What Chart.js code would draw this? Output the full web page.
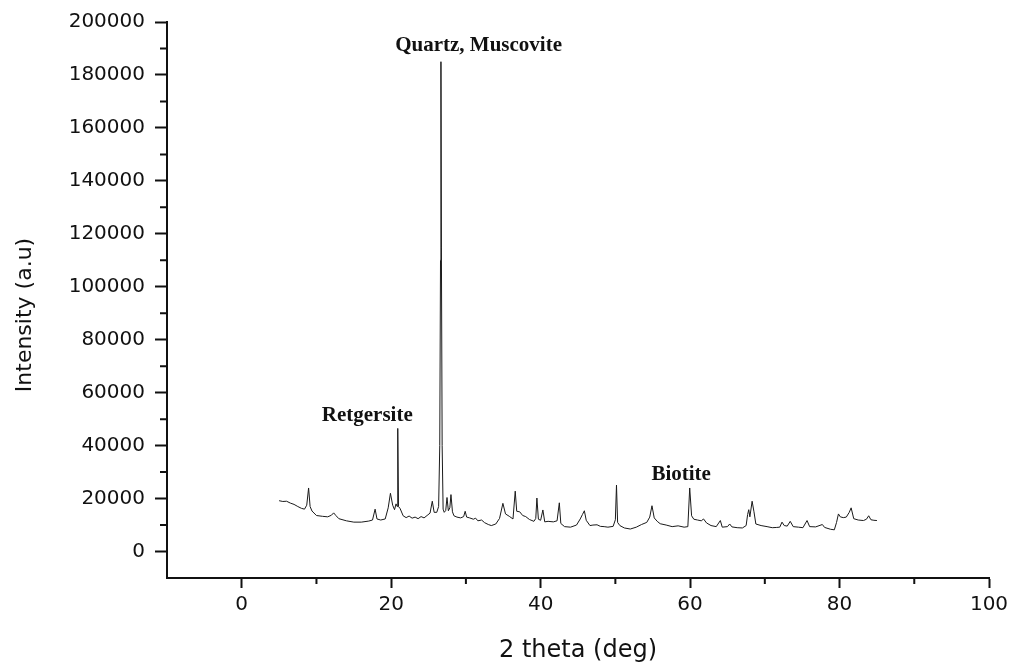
<!DOCTYPE html>
<html lang="en">

<head>
    <meta charset="UTF-8" />
    <title>XRD pattern</title>
    <script src="https://cdn.jsdelivr.net/npm/chart.js"></script>
    <style>
        html, body { margin: 0; padding: 0; background: #fff; }
        #wrap { width: 1015px; height: 668px; }
    </style>
</head>

<body>
    <div id="wrap"><canvas id="chart"></canvas></div>
    <script>
        // 2 theta (deg) and intensity (a.u)
        var twoTheta = [
            5.0, 5.5, 6.0, 6.5, 7.0, 7.5, 8.0, 8.4, 8.7, 8.95, 9.15, 9.4, 10.0, 10.8, 11.5, 12.0, 12.3, 12.6, 13.0, 14.0,
            15.0, 16.0, 17.0, 17.5, 17.85, 18.1, 18.6, 19.2, 19.6, 19.9, 20.2, 20.45, 20.65, 20.8, 20.88, 20.98, 21.2, 21.6, 22.0, 22.4,
            22.8, 23.2, 23.6, 24.0, 24.4, 24.8, 25.2, 25.5, 25.75, 26.1, 26.35, 26.5, 26.6, 26.66, 26.72, 26.82, 26.95, 27.1, 27.3, 27.47,
            27.65, 27.85, 28.0, 28.2, 28.4, 28.8, 29.3, 29.7, 29.9, 30.1, 30.5, 31.0, 31.3, 31.6, 32.1, 32.5, 33.0, 33.4, 34.0, 34.5,
            34.95, 35.3, 35.8, 36.3, 36.6, 36.8, 37.2, 37.6, 38.0, 38.5, 39.1, 39.35, 39.5, 39.7, 40.0, 40.3, 40.55, 41.0, 41.7, 42.2,
            42.5, 42.7, 43.2, 44.0, 44.8, 45.3, 45.6, 45.85, 46.1, 46.6, 47.0, 47.55, 48.0, 48.5, 49.0, 49.7, 50.0, 50.15, 50.3, 50.6,
            51.2, 52.0, 52.8, 53.5, 54.2, 54.6, 54.9, 55.2, 55.6, 56.0, 56.8, 57.6, 58.4, 59.2, 59.7, 59.95, 60.2, 60.5, 61.0, 61.5,
            61.8, 62.2, 62.8, 63.5, 64.05, 64.3, 65.0, 65.3, 65.6, 66.3, 67.0, 67.5, 67.7, 67.85, 68.0, 68.3, 68.55, 68.8, 69.5, 70.3,
            71.0, 71.6, 72.0, 72.3, 72.6, 73.0, 73.4, 73.8, 74.5, 75.1, 75.65, 76.0, 76.8, 77.7, 78.0, 78.8, 79.3, 79.6, 79.85, 80.1,
            80.5, 80.9, 81.3, 81.55, 81.9, 82.5, 83.2, 83.6, 83.9, 84.2, 84.6, 85.0
        ];
        var intensity = [
            19200, 18900, 19000, 18300, 17800, 17000, 16300, 16000, 17500, 24000, 17000, 15300, 13600, 13300, 13100, 13700, 14600, 13600, 12400, 11600,
            11100, 11100, 11500, 11900, 16000, 12300, 11900, 12300, 16500, 22000, 17500, 15800, 18000, 17000, 46500, 17000, 16200, 13500, 12800, 13400,
            12600, 13000, 12400, 13200, 12700, 13600, 14500, 19000, 14800, 14800, 17000, 40000, 110000, 185000, 115000, 40000, 16000, 14800, 15500, 20400,
            15400, 16500, 21500, 15000, 13500, 13000, 12700, 13200, 15200, 13000, 12700, 12200, 12600, 11600, 11900, 10900, 10200, 9800, 10400, 12500,
            18200, 14200, 13300, 12300, 22800, 15200, 15000, 13600, 13200, 12100, 11400, 12500, 20200, 12200, 11800, 15700, 11200, 11400, 11200, 11600,
            18400, 10600, 9400, 9200, 10000, 12300, 14000, 15400, 11800, 9800, 10000, 10100, 9500, 9400, 9200, 9500, 12000, 25100, 11000, 9800,
            8900, 8500, 9200, 10200, 11000, 13000, 17300, 12700, 11400, 10500, 10000, 9400, 9700, 9200, 9400, 24000, 13500, 12200, 11900, 11600,
            12300, 10800, 9800, 9400, 11700, 9200, 9400, 10400, 9300, 9000, 8900, 9800, 14000, 15800, 13100, 19000, 15000, 10400, 9800, 9400,
            9000, 9100, 9200, 11100, 9800, 9600, 11400, 9400, 9200, 9000, 11700, 9400, 9300, 10200, 9100, 8400, 8200, 11000, 14200, 13100,
            12800, 13000, 14800, 16500, 12400, 11900, 11700, 12200, 13500, 12000, 11800, 11700
        ];

        var xTicks = [0, 20, 40, 60, 80, 100];
        var xMinor = [10, 30, 50, 70, 90];
        var yTicks = [0, 20000, 40000, 60000, 80000, 100000, 120000, 140000, 160000, 180000, 200000];
        var yMinor = [10000, 30000, 50000, 70000, 90000, 110000, 130000, 150000, 170000, 190000];

        // phase labels and where they sit (data coords, text baseline centre)
        var phaseNames = ["Quartz, Muscovite", "Retgersite", "Biotite"];
        var phaseX = [31.7, 16.8, 58.8];
        var phaseY = [189000, 49300, 27000];

        var ink = "#111";
        var tickFont = { family: "DejaVu Sans", size: 20 };

        var extras = {
            id: "extras",
            afterDraw: function (chart) {
                var ctx = chart.ctx;
                var xs = chart.scales.x, ys = chart.scales.y;
                ctx.save();
                // minor ticks
                ctx.strokeStyle = ink;
                ctx.lineWidth = 2;
                ctx.beginPath();
                xMinor.forEach(function (v) {
                    var px = xs.getPixelForValue(v);
                    ctx.moveTo(px, ys.bottom);
                    ctx.lineTo(px, ys.bottom + 6);
                });
                yMinor.forEach(function (v) {
                    var py = ys.getPixelForValue(v);
                    ctx.moveTo(xs.left, py);
                    ctx.lineTo(xs.left - 7, py);
                });
                ctx.stroke();
                // y axis title, sits a bit below the plot centre in the original
                ctx.fillStyle = ink;
                ctx.font = "22px 'DejaVu Sans'";
                ctx.textAlign = "center";
                ctx.textBaseline = "middle";
                ctx.translate(25, 315);
                ctx.rotate(-Math.PI / 2);
                ctx.fillText("Intensity (a.u)", 0, 0);
                ctx.setTransform(chart.currentDevicePixelRatio, 0, 0, chart.currentDevicePixelRatio, 0, 0);
                // phase labels
                ctx.font = "bold 21px 'Liberation Serif'";
                ctx.textAlign = "center";
                ctx.textBaseline = "alphabetic";
                phaseNames.forEach(function (name, i) {
                    ctx.fillText(name, xs.getPixelForValue(phaseX[i]), ys.getPixelForValue(phaseY[i]));
                });
                ctx.restore();
            }
        };

        var ctx = document.getElementById("chart").getContext("2d");
        var myChart = new Chart(ctx, {
            type: "line",
            data: {
                datasets: [{
                    data: twoTheta.map(function (t, i) { return { x: t, y: intensity[i] }; }),
                    borderColor: "#1a1a1a",
                    borderWidth: 1,
                    pointRadius: 0,
                    tension: 0,
                    fill: false
                }]
            },
            options: {
                responsive: true,
                maintainAspectRatio: false,
                animation: false,
                layout: { padding: { top: 20, right: 26, left: 0, bottom: 0 } },
                plugins: {
                    legend: { display: false },
                    tooltip: { enabled: false }
                },
                scales: {
                    x: {
                        type: "linear",
                        min: -10,
                        max: 100,
                        afterBuildTicks: function (axis) {
                            axis.ticks = xTicks.map(function (v) { return { value: v }; });
                        },
                        afterFit: function (scale) { scale.height = 90; },
                        border: { display: true, width: 2, color: ink },
                        grid: { drawOnChartArea: false, drawTicks: true, tickLength: 10, tickWidth: 2, tickColor: ink },
                        ticks: { font: tickFont, color: ink, padding: 5, maxRotation: 0 },
                        title: {
                            display: true,
                            text: "2 theta (deg)",
                            color: ink,
                            font: { family: "DejaVu Sans", size: 24 },
                            padding: { top: 0, bottom: 3 }
                        }
                    },
                    y: {
                        min: -10000,
                        max: 200000,
                        afterBuildTicks: function (axis) {
                            axis.ticks = yTicks.map(function (v) { return { value: v }; });
                        },
                        afterFit: function (scale) { scale.width = 167; },
                        border: { display: true, width: 2, color: ink },
                        grid: { drawOnChartArea: false, drawTicks: true, tickLength: 12, tickWidth: 2, tickColor: ink },
                        ticks: {
                            font: tickFont,
                            color: ink,
                            padding: 10,
                            callback: function (v) { return String(v); }
                        }
                    }
                }
            },
            plugins: [extras]
        });
    </script>
</body>

</html>
